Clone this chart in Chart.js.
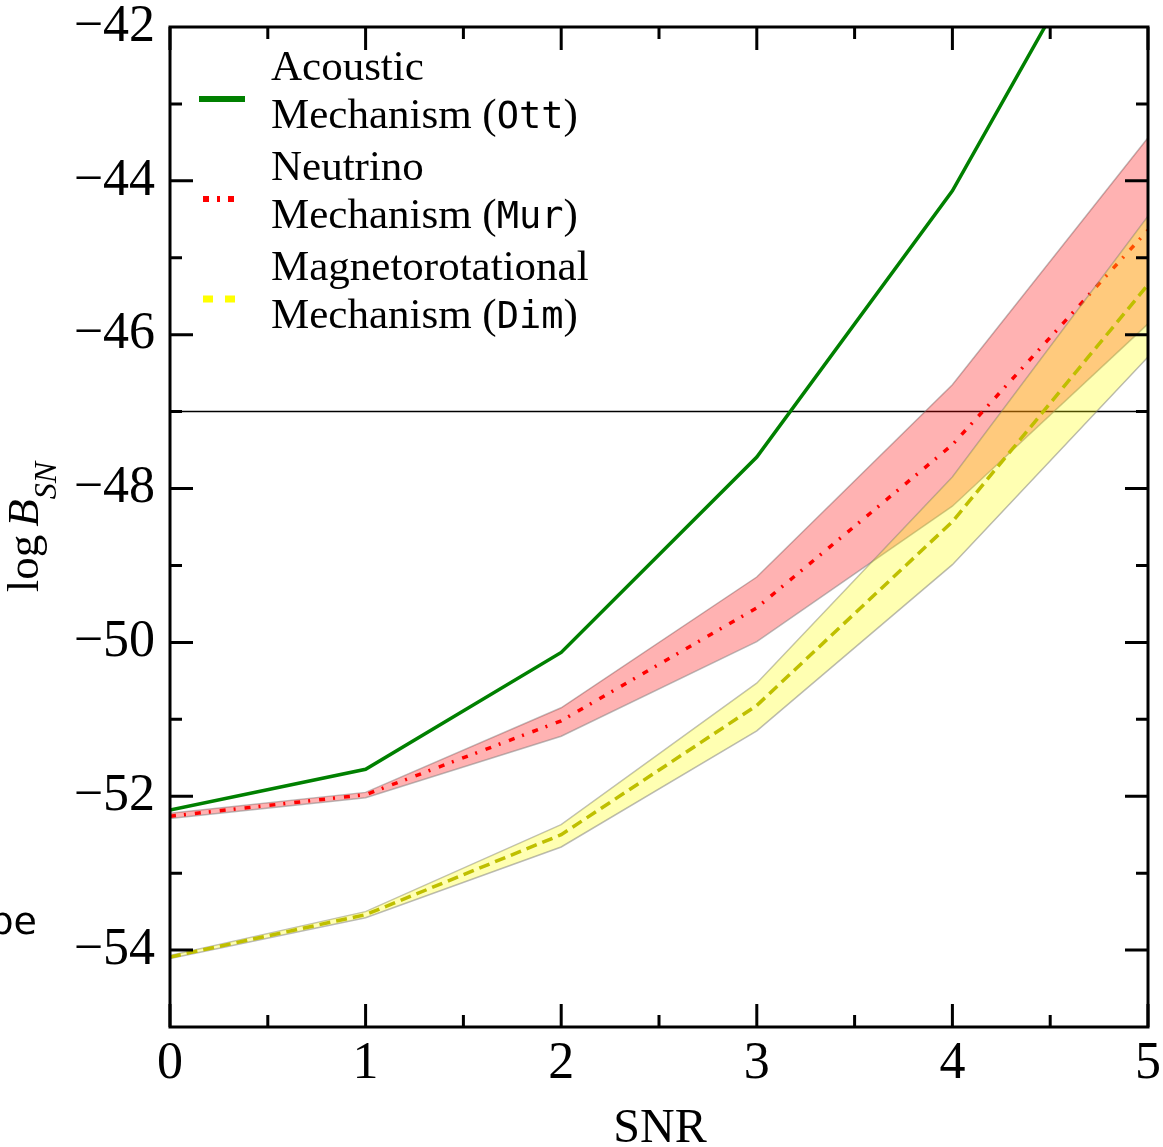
<!DOCTYPE html>
<html>
<head>
<meta charset="utf-8">
<script src="https://cdn.jsdelivr.net/npm/chart.js@4.4.0/dist/chart.umd.min.js"></script>
<style>
  body { margin: 0; background: #fff; }
  canvas { display: block; }
</style>
</head>
<body>
<canvas id="snrChart" width="1163" height="1147"></canvas>
<script>
// SNR values and log B_SN curves
const snr = [0, 1, 2, 3, 4, 5];
const ott = [-52.18, -51.65, -50.13, -47.59, -44.13, -39.62];
const mur = [-52.26, -51.98, -51.02, -49.55, -47.43, -44.64];
const murHigh = [-52.22, -51.95, -50.85, -49.15, -46.65, -43.44];
const murLow = [-52.29, -52.02, -51.22, -49.99, -48.23, -45.86];
const dim = [-54.09, -53.54, -52.50, -50.82, -48.43, -45.35];
const dimHigh = [-54.07, -53.50, -52.37, -50.53, -47.85, -44.46];
const dimLow = [-54.11, -53.58, -52.66, -51.15, -48.99, -46.29];
const threshold = -47;

const xTicks = [0, 1, 2, 3, 4, 5];
const yTicks = [-54, -52, -50, -48, -46, -44, -42];

const legendItems = [
  { top: 'Acoustic', code: 'Ott', color: '#008000', dash: [], width: 6 },
  { top: 'Neutrino', code: 'Mur', color: '#ff0000', dash: [6, 8, 3, 8], width: 6 },
  { top: 'Magnetorotational', code: 'Dim', color: '#ffff00', dash: [10, 12], width: 7 }
];

const pts = ys => snr.map((x, i) => ({ x: x, y: ys[i] }));
const SERIF = '"Liberation Serif", "DejaVu Serif", serif';

const frame = {
  id: 'frame',
  afterDraw(chart) {
    const ctx = chart.ctx;
    const a = chart.chartArea;
    const xs = chart.scales.x, ys = chart.scales.y;
    ctx.save();
    ctx.strokeStyle = '#000';
    ctx.lineWidth = 3;
    ctx.strokeRect(a.left, a.top, a.right - a.left, a.bottom - a.top);

    // inward ticks on all four sides
    ctx.beginPath();
    for (let v = 0; v <= 5; v += 0.5) {
      const px = xs.getPixelForValue(v);
      const len = Number.isInteger(v) ? 23 : 12;
      ctx.moveTo(px, a.bottom); ctx.lineTo(px, a.bottom - len);
      ctx.moveTo(px, a.top); ctx.lineTo(px, a.top + len);
    }
    for (let v = -54; v <= -43; v += 1) {
      const py = ys.getPixelForValue(v);
      const len = v % 2 === 0 ? 23 : 12;
      ctx.moveTo(a.left, py); ctx.lineTo(a.left + len, py);
      ctx.moveTo(a.right, py); ctx.lineTo(a.right - len, py);
    }
    ctx.stroke();

    // legend
    ctx.textBaseline = 'alphabetic';
    ctx.textAlign = 'left';
    legendItems.forEach((it, i) => {
      const base = 80 + i * 100;
      ctx.fillStyle = '#000';
      ctx.font = '43px ' + SERIF;
      ctx.fillText(it.top, 271, base);
      const l2 = base + 48;
      ctx.fillText('Mechanism (', 271, l2);
      let w = ctx.measureText('Mechanism (').width;
      ctx.font = '37px "DejaVu Sans Mono", monospace';
      ctx.fillText(it.code, 271 + w, l2);
      w += ctx.measureText(it.code).width;
      ctx.font = '43px ' + SERIF;
      ctx.fillText(')', 271 + w, l2);

      ctx.strokeStyle = it.color;
      ctx.lineWidth = it.width;
      ctx.setLineDash(it.dash);
      ctx.beginPath();
      const my = base + 19;
      ctx.moveTo(i === 0 ? 199 : 203, my);
      ctx.lineTo(i === 0 ? 245 : 236, my);
      ctx.stroke();
      ctx.setLineDash([]);
    });

    // y axis title: log B_SN
    ctx.save();
    ctx.fillStyle = '#000';
    ctx.translate(38, 527);
    ctx.rotate(-Math.PI / 2);
    ctx.font = '45px ' + SERIF;
    const wLog = ctx.measureText('log').width;
    ctx.font = 'italic 45px ' + SERIF;
    const wB = ctx.measureText('B').width;
    ctx.font = 'italic 32px ' + SERIF;
    const wSN = ctx.measureText('SN').width;
    const gap = 8;
    let x0 = -(wLog + gap + wB + wSN) / 2;
    ctx.font = '45px ' + SERIF;
    ctx.fillText('log', x0, 0);
    x0 += wLog + gap;
    ctx.font = 'italic 45px ' + SERIF;
    ctx.fillText('B', x0, 0);
    x0 += wB;
    ctx.font = 'italic 32px ' + SERIF;
    ctx.fillText('SN', x0, 18);
    ctx.restore();

    // x axis title
    ctx.font = '48px ' + SERIF;
    ctx.textAlign = 'center';
    ctx.fillStyle = '#000';
    ctx.fillText('SNR', 660, 1142);

    // clipped text fragment at the left edge
    ctx.font = '38px "DejaVu Sans", sans-serif';
    ctx.textAlign = 'right';
    ctx.fillText('be', 37, 934);
    ctx.restore();
  }
};

const noPad = s => { s.paddingTop = 0; s.paddingBottom = 0; s.paddingLeft = 0; s.paddingRight = 0; };
const band = { pointRadius: 0, borderColor: 'rgba(120,120,120,0.5)', borderWidth: 1.5, clip: 0 };

new Chart(document.getElementById('snrChart'), {
  type: 'line',
  data: {
    datasets: [
      { data: pts(dim), borderColor: '#bfbf00', borderWidth: 3.5, borderDash: [11, 6], pointRadius: 0, fill: false, clip: 0 },
      Object.assign({ data: pts(dimLow), fill: { target: 2 }, backgroundColor: 'rgba(255,255,0,0.3)' }, band),
      Object.assign({ data: pts(dimHigh), fill: false }, band),
      { data: pts(mur), borderColor: '#ff0000', borderWidth: 3.5, borderDash: [6, 8, 2, 9], pointRadius: 0, fill: false, clip: 0 },
      Object.assign({ data: pts(murLow), fill: { target: 5 }, backgroundColor: 'rgba(255,0,0,0.3)' }, band),
      Object.assign({ data: pts(murHigh), fill: false }, band),
      { data: pts(ott), borderColor: '#008000', borderWidth: 3.5, pointRadius: 0, fill: false, clip: 0 },
      { data: [{ x: snr[0], y: threshold }, { x: snr[snr.length - 1], y: threshold }], borderColor: '#000', borderWidth: 1.5, pointRadius: 0, fill: false, clip: 0 }
    ]
  },
  options: {
    responsive: false,
    devicePixelRatio: 1,
    animation: false,
    layout: { padding: { top: 27, right: 15, left: 0, bottom: 0 } },
    plugins: { legend: { display: false }, tooltip: { enabled: false } },
    scales: {
      x: {
        type: 'linear', min: 0, max: 5,
        grid: { display: false, drawTicks: false },
        border: { display: false },
        afterBuildTicks: s => { s.ticks = xTicks.map(v => ({ value: v })); },
        afterFit: s => { s.height = 120; noPad(s); },
        ticks: { font: { family: SERIF, size: 52 }, color: '#000', padding: 6, maxRotation: 0 }
      },
      y: {
        type: 'linear', min: -55, max: -42,
        grid: { display: false, drawTicks: false },
        border: { display: false },
        afterBuildTicks: s => { s.ticks = yTicks.map(v => ({ value: v })); },
        afterFit: s => { s.width = 170; noPad(s); },
        ticks: {
          font: { family: SERIF, size: 52 }, color: '#000', padding: 15,
          callback: v => '\u2212' + Math.abs(v)
        }
      }
    }
  },
  plugins: [frame]
});
</script>
</body>
</html>
